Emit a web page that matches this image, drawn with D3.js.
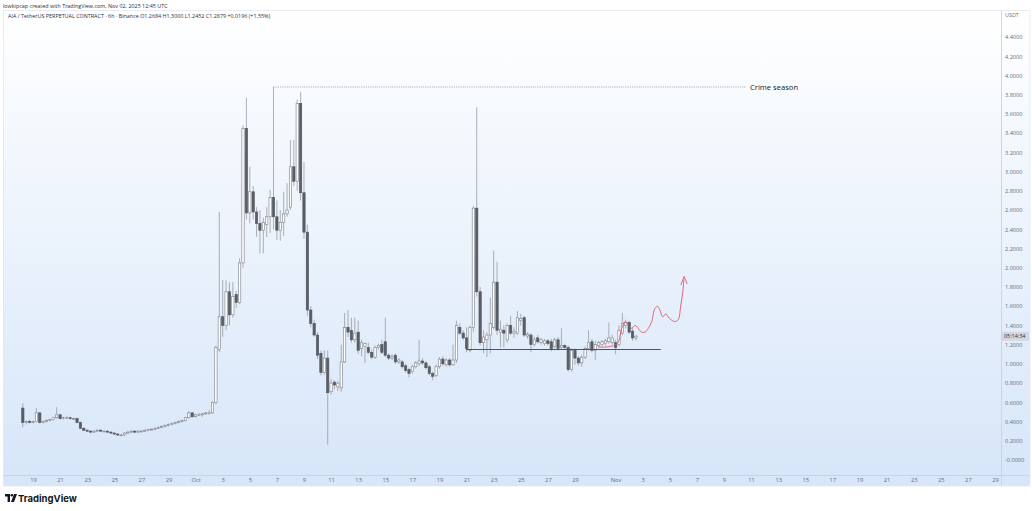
<!DOCTYPE html>
<html><head><meta charset="utf-8">
<script src="https://cdn.jsdelivr.net/npm/d3@7"></script>
<style>
html,body{margin:0;padding:0;background:#fff;}
svg{display:block;font-family:"Open Sans","Noto Sans",sans-serif;}
</style></head><body>
<svg id="c" width="1032" height="511"></svg>
<script>
// ---------- DATA ----------
const candleStart = "2025-09-18T06:00:00Z"; // 6h candles
const opens = [
.54,.39,.40,.39,.40,.49,.39,.40,.41,.42,
.44,.47,.43,.44,.44,.43,.43,.39,.33,.31,
.30,.29,.30,.31,.30,.30,.29,.28,.27,.26,
.26,.28,.29,.30,.29,.30,.30,.31,.32,.32,
.33,.34,.35,.36,.37,.38,.39,.40,.41,.44,
.49,.45,.47,.47,.48,.49,.49,.60,1.15,1.49,
1.40,1.75,1.51,1.72,1.64,2.05,3.45,2.57,2.79,2.58,
2.46,2.39,2.45,2.53,2.73,2.53,2.39,2.47,2.56,2.63,
3.05,2.90,3.71,2.78,2.37,1.56,1.42,1.30,1.11,.91,
1.06,.71,.81,.76,.75,1.02,1.38,1.35,1.25,1.33,
1.16,1.18,1.17,1.12,1.07,1.17,1.20,1.23,1.09,1.06,
1.09,1.02,1.02,.98,.94,.92,.97,1.00,1.03,1.01,
.97,.90,.88,.97,1.05,.99,1.04,.99,1.04,1.38,
1.32,1.27,1.14,1.38,2.62,1.75,1.22,1.25,1.30,1.38,
1.85,1.33,1.35,1.25,1.40,1.32,1.32,1.45,1.48,1.29,
1.30,1.20,1.27,1.22,1.21,1.24,1.23,1.18,1.25,1.17,
1.19,1.17,.94,1.14,1.06,1.01,1.07,1.16,1.23,1.14,
1.19,1.20,1.21,1.23,1.22,1.22,1.20,1.32,1.40,1.43,
1.34,1.2684];
const highs = [
.59,.41,.42,.41,.54,.50,.41,.42,.43,.45,
.55,.48,.45,.46,.45,.44,.44,.40,.34,.32,
.31,.31,.32,.32,.31,.31,.30,.29,.28,.27,
.29,.30,.31,.31,.31,.31,.32,.32,.33,.34,
.35,.36,.37,.38,.39,.40,.41,.42,.45,.51,
.50,.48,.49,.49,.50,.52,.61,1.19,2.58,1.87,
1.87,1.85,1.85,1.76,2.10,3.48,3.77,3.05,2.85,2.63,
2.60,2.52,2.63,2.81,3.88,2.70,2.60,2.79,2.88,3.33,
3.33,3.75,3.83,3.10,2.45,1.60,1.46,1.33,1.14,1.14,
1.14,.84,.83,.82,1.20,1.53,1.56,1.48,1.48,1.45,
1.25,1.22,1.22,1.15,1.19,1.21,1.25,1.48,1.11,1.10,
1.11,1.06,1.04,1.00,.96,.99,1.03,1.25,1.06,1.03,
.99,.92,.99,1.07,1.08,1.06,1.06,1.20,1.45,1.42,
1.35,1.38,1.40,2.64,3.67,1.80,1.35,1.33,1.69,2.18,
2.06,1.45,1.40,1.42,1.50,1.38,1.55,1.52,1.50,1.33,
1.32,1.28,1.30,1.27,1.26,1.26,1.26,1.27,1.28,1.37,
1.21,1.19,1.16,1.16,1.08,1.09,1.18,1.35,1.26,1.24,
1.24,1.25,1.26,1.43,1.30,1.25,1.40,1.53,1.46,1.45,
1.37,1.30];
const lows = [
.34,.37,.38,.38,.39,.38,.38,.39,.40,.41,
.43,.42,.42,.43,.42,.42,.38,.32,.30,.29,
.28,.28,.29,.29,.29,.28,.27,.26,.25,.25,
.25,.27,.28,.28,.28,.29,.29,.30,.31,.31,
.32,.33,.34,.35,.36,.37,.38,.39,.40,.43,
.44,.44,.46,.45,.47,.47,.48,.58,1.12,1.28,
1.35,1.40,1.48,1.58,1.62,2.00,2.50,2.46,2.50,2.32,
2.15,2.15,2.32,2.36,2.40,2.29,2.28,2.33,2.53,2.60,
2.85,2.80,2.70,2.30,1.50,1.38,1.28,1.05,.88,.89,
.16,.68,.74,.72,.71,1.01,1.28,1.22,1.22,1.10,
1.08,1.01,1.10,1.05,1.05,1.15,1.10,1.07,1.04,1.04,
1.00,1.00,.95,.91,.86,.90,.95,.98,.99,.94,
.88,.83,.86,.95,.98,.97,.97,.98,1.01,1.30,
1.25,1.12,1.12,1.33,1.70,1.19,1.11,1.07,1.11,1.36,
1.30,1.17,1.17,1.22,1.30,1.27,1.30,1.40,1.28,1.26,
1.12,1.18,1.21,1.20,1.19,1.19,1.13,1.16,1.14,1.15,
1.15,.92,.92,.99,.98,.97,1.05,1.14,1.12,1.04,
1.17,1.18,1.19,1.21,1.20,1.10,1.18,1.30,1.37,1.31,
1.24,1.2452];
const closes = [
.39,.40,.39,.40,.49,.39,.40,.41,.42,.44,
.47,.43,.44,.44,.43,.43,.39,.33,.31,.30,
.29,.30,.31,.30,.30,.29,.28,.27,.26,.26,
.28,.29,.30,.29,.30,.30,.31,.32,.32,.33,
.34,.35,.36,.37,.38,.39,.40,.41,.44,.49,
.45,.47,.47,.48,.49,.49,.60,1.17,1.49,1.40,
1.75,1.51,1.70,1.64,2.05,3.45,2.57,2.79,2.58,2.46,
2.39,2.47,2.53,2.73,2.53,2.39,2.47,2.56,2.60,3.05,
2.90,3.71,2.78,2.37,1.56,1.42,1.30,1.09,.91,1.06,
.70,.80,.78,.80,1.02,1.38,1.33,1.25,1.32,1.14,
1.22,1.21,1.12,1.07,1.17,1.19,1.12,1.09,1.06,1.08,
1.02,1.04,.97,.93,.90,.97,1.01,1.03,1.01,.96,
.90,.87,.97,1.05,1.00,1.04,.99,1.04,1.40,1.32,
1.27,1.16,1.38,2.62,1.75,1.22,1.28,1.30,1.42,1.85,
1.35,1.36,1.32,1.40,1.32,1.34,1.48,1.47,1.30,1.31,
1.20,1.25,1.23,1.25,1.24,1.21,1.15,1.25,1.16,1.19,
1.17,.94,1.14,1.06,1.01,1.07,1.16,1.22,1.14,1.20,
1.22,1.23,1.24,1.27,1.27,1.17,1.35,1.42,1.43,1.33,
1.27,1.2879];

const xTickDates = ["2025-09-19","2025-09-21","2025-09-23","2025-09-25","2025-09-27","2025-09-29",
"2025-10-01","2025-10-03","2025-10-05","2025-10-07","2025-10-09","2025-10-11","2025-10-13","2025-10-15",
"2025-10-17","2025-10-19","2025-10-21","2025-10-23","2025-10-25","2025-10-27","2025-10-29",
"2025-11-01","2025-11-03","2025-11-05","2025-11-07","2025-11-09","2025-11-11","2025-11-13","2025-11-15",
"2025-11-17","2025-11-19","2025-11-21","2025-11-23","2025-11-25","2025-11-27","2025-11-29"];
const xTickLabels = ["19","21","23","25","27","29","Oct","3","5","7","9","11","13","15","17","19","21","23",
"25","27","29","Nov","3","5","7","9","11","13","15","17","19","21","23","25","27","29"];
const yTickValues = [0,0.2,0.4,0.6,0.8,1.0,1.2,1.4,1.6,1.8,2.0,2.2,2.4,2.6,2.8,3.0,3.2,3.4,3.6,3.8,4.0,4.2,4.4];
const yTickLabels = ["-0.0000","0.2000","0.4000","0.6000","0.8000","1.0000","1.2000","1.4000","1.6000","1.8000",
"2.0000","2.2000","2.4000","2.6000","2.8000","3.0000","3.2000","3.4000","3.6000","3.8000","4.0000","4.2000","4.4000"];

// annotations
const crimeLevel = 3.88, crimeStart = "2025-10-06T18:00:00Z", crimeEnd = "2025-11-10T15:00:00Z";
const supportLevel = 1.15, supportStart = "2025-10-20T23:00:00Z", supportEnd = "2025-11-04T08:00:00Z";
const arrowBase = "2025-11-01T00:00:00Z";
const arrowHours  = [-31,-17,-6,-1,5,11,17,22.5,28.5,34.5,40,46,52,58,64,68.5,74,78.5,83.5,89,93,98,105,111,115,119,121];
const arrowPrices = [1.175,1.175,1.185,1.195,1.23,1.37,1.44,1.40,1.37,1.40,1.37,1.33,1.33,1.37,1.44,1.56,1.60,1.56,1.49,1.52,1.49,1.46,1.44,1.46,1.59,1.75,1.88];
const headHours = [115.5,121.3,127];
const headPrices = [1.82,1.91,1.83];

// ---------- DRAW ----------
const W=1032,H=511;
const svg=d3.select("#c");
const defs=svg.append("defs");
const g1=defs.append("linearGradient").attr("id","bg").attr("x1",0).attr("y1",0).attr("x2",0).attr("y2",1);
g1.append("stop").attr("offset","0%").attr("stop-color","#ffffff");
g1.append("stop").attr("offset","100%").attr("stop-color","#d7e6f9");

svg.append("rect").attr("width",W).attr("height",H).attr("fill","#fff");
svg.append("rect").attr("x",3).attr("y",10).attr("width",1027).attr("height",465).attr("fill","url(#bg)");
svg.append("rect").attr("x",3).attr("y",475).attr("width",1027).attr("height",11).attr("fill","#d7e6f8");
svg.append("line").attr("x1",3).attr("x2",1030).attr("y1",475.5).attr("y2",475.5).attr("stroke","#c3cfdd").attr("stroke-width",0.8);
svg.append("line").attr("x1",1001.5).attr("x2",1001.5).attr("y1",10).attr("y2",486).attr("stroke","#c3cfdd").attr("stroke-width",0.8);
svg.append("rect").attr("x",3.5).attr("y",10.5).attr("width",1026.5).attr("height",475.5).attr("fill","none").attr("stroke","#e3e8ef").attr("stroke-width",0.8);

const x = d3.scaleUtc().domain([new Date("2025-09-19T00:00:00Z"), new Date("2025-11-29T00:00:00Z")]).range([33,995]);
const y = d3.scaleLinear().domain([0,4.4]).range([460,37]);

// x axis
const xAxis = d3.axisBottom(x).tickValues(xTickDates.map(d=>new Date(d+"T00:00:00Z")))
  .tickFormat((d,i)=>xTickLabels[i]).tickSize(0).tickPadding(0);
const xa = svg.append("g").attr("transform","translate(0,478)").call(xAxis);
xa.select(".domain").remove();
xa.selectAll("text").attr("fill","#6a6d78").attr("font-size",5.8).attr("dy","0.71em").attr("font-family","Open Sans, sans-serif");

// y axis
const yAxis = d3.axisRight(y).tickValues(yTickValues).tickFormat((d,i)=>yTickLabels[i]).tickSize(0).tickPadding(0);
const ya = svg.append("g").attr("transform","translate(1005,0)").call(yAxis);
ya.select(".domain").remove();
ya.selectAll("text").attr("fill","#6a6d78").attr("font-size",5.6).attr("font-family","Open Sans, sans-serif");
svg.append("text").attr("x",1005).attr("y",17).attr("font-size",5.4).attr("fill","#6a6d78").text("USDT");

// candles
const t0 = new Date(candleStart).getTime();
const step = 6*3600e3;
const candles = opens.map((o,i)=>({t:new Date(t0+i*step),o,h:highs[i],l:lows[i],c:closes[i]}));
const bw = (x(new Date(t0+step))-x(new Date(t0)))*0.68;
const cg = svg.append("g");
cg.selectAll("line.w").data(candles).join("line").attr("class","w")
  .attr("x1",d=>x(d.t)).attr("x2",d=>x(d.t)).attr("y1",d=>y(d.h)).attr("y2",d=>y(d.l))
  .attr("stroke","#8d9099").attr("stroke-width",0.7);
cg.selectAll("rect.b").data(candles).join("rect").attr("class","b")
  .attr("x",d=>x(d.t)-bw/2).attr("width",bw)
  .attr("y",d=>y(Math.max(d.o,d.c))).attr("height",d=>Math.max(0.8,Math.abs(y(d.o)-y(d.c))))
  .attr("fill",d=>d.c>=d.o?"#ffffff":"#5b5e67")
  .attr("stroke",d=>d.c>=d.o?"#7b7e87":"#4f525a").attr("stroke-width",0.6);

// crime season dotted line
svg.append("line").attr("x1",x(new Date(crimeStart))).attr("x2",x(new Date(crimeEnd)))
  .attr("y1",y(crimeLevel)).attr("y2",y(crimeLevel))
  .attr("stroke","#8a8d96").attr("stroke-width",0.8).attr("stroke-dasharray","1,1.2");
svg.append("text").attr("x",x(new Date(crimeEnd))+4).attr("y",y(crimeLevel)).attr("dy","0.35em")
  .attr("font-size",7.6).attr("fill","#131722").text("Crime season");

// support line
svg.append("line").attr("x1",x(new Date(supportStart))).attr("x2",x(new Date(supportEnd)))
  .attr("y1",y(supportLevel)).attr("y2",y(supportLevel)).attr("stroke","#50535b").attr("stroke-width",1.1);

// red projection path
const base = new Date(arrowBase).getTime();
const pts = arrowHours.map((h,i)=>[x(new Date(base+h*3600e3)), y(arrowPrices[i])]);
svg.append("path").attr("d",d3.line().curve(d3.curveCatmullRom)(pts)).attr("fill","none")
  .attr("stroke","#e2566e").attr("stroke-width",0.9);
const hp = headHours.map((h,i)=>[x(new Date(base+h*3600e3)), y(headPrices[i])]);
svg.append("path").attr("d",d3.line()(hp)).attr("fill","none").attr("stroke","#e2566e").attr("stroke-width",0.9);

// price label
const py = y(closes[closes.length-1]);
svg.append("rect").attr("x",1002).attr("y",py-4.5).attr("width",27).attr("height",9).attr("fill","#d4d7de");
svg.append("text").attr("x",1004).attr("y",py).attr("dy","0.35em").attr("font-size",5.4).attr("fill","#2a2e39").text("05:14:34");

// header
svg.append("text").attr("x",3).attr("y",8).attr("font-size",5.4).attr("fill","#2a2e39")
  .text("lowkipcap created with TradingView.com, Nov 02, 2025 12:45 UTC");
svg.append("text").attr("x",8).attr("y",18).attr("font-size",5.4).attr("fill","#2a2e39")
  .text("AIA / TetherUS PERPETUAL CONTRACT · 6h · Binance   O1.2684  H1.3000  L1.2452  C1.2879  +0.0196 (+1.55%)");

// TradingView logo
const lg = svg.append("g").attr("transform","translate(5,494)");
lg.append("path").attr("d","M0,0 H5 V8 H2.6 V2.4 H0 Z").attr("fill","#131722");
lg.append("circle").attr("cx",6.8).attr("cy",1.3).attr("r",1.3).attr("fill","#131722");
lg.append("path").attr("d","M9,0 H12 L9,8 H6 Z").attr("fill","#131722");
svg.append("text").attr("x",18).attr("y",502).attr("font-size",9.5).attr("font-weight","bold")
  .attr("font-family","Inter, Open Sans, sans-serif").attr("fill","#131722").text("TradingView");
</script>
</body></html>
